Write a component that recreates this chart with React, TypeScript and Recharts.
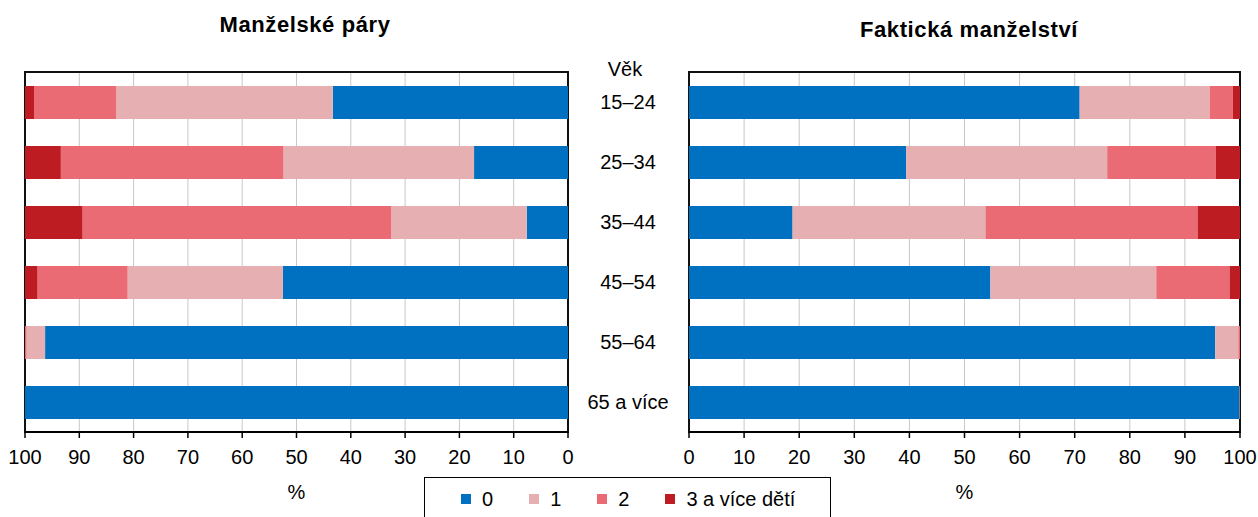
import React from 'react';
import { BarChart, Bar, XAxis, YAxis, CartesianGrid, ReferenceArea } from 'recharts';

const categories = ['15–24', '25–34', '35–44', '45–54', '55–64', '65 a více'];
const seriesNames = ['0', '1', '2', '3 a více dětí'];
const seriesColors = ['#0070C0', '#E6AFB2', '#EA6B73', '#BE1C23'];
const percentTicks = [0, 10, 20, 30, 40, 50, 60, 70, 80, 90, 100];

// Manželské páry
const marriedZero = [43.3, 17.3, 7.6, 52.5, 96.3, 100];
const marriedOne = [39.9, 35.1, 25.0, 28.6, 3.4, 0];
const marriedTwo = [15.1, 41.0, 56.8, 16.6, 0.3, 0];
const marriedThree = [1.7, 6.6, 10.6, 2.3, 0, 0];

// Faktická manželství
const cohabZero = [70.9, 39.4, 18.8, 54.7, 95.5, 99.9];
const cohabOne = [23.6, 36.5, 35.0, 30.1, 4.2, 0.1];
const cohabTwo = [4.2, 19.7, 38.5, 13.3, 0.3, 0];
const cohabThree = [1.3, 4.4, 7.7, 1.9, 0, 0];

const keys = ['s0', 's1', 's2', 's3'];

const build = (a: number[], b: number[], c: number[], d: number[]) =>
  categories.map((age, i) => ({ age, s0: a[i], s1: b[i], s2: c[i], s3: d[i] }));

const marriedData = build(marriedZero, marriedOne, marriedTwo, marriedThree);
const cohabData = build(cohabZero, cohabOne, cohabTwo, cohabThree);

const FONT = '"Liberation Sans", Arial, sans-serif';

const CategoryTick = (props: any) => {
  const { x, y, payload } = props;
  return (
    <text x={x} y={y} dx={60} dy="0.36em" textAnchor="middle" fontSize={20} fill="#000" fontFamily={FONT}>
      {payload.value}
    </text>
  );
};

const tickStyle = { fontSize: 20, fill: '#000', fontFamily: FONT };

const renderBars = () =>
  keys.map((k, i) => (
    <Bar
      key={k}
      dataKey={k}
      name={seriesNames[i]}
      stackId="a"
      fill={seriesColors[i]}
      barSize={33}
      isAnimationActive={false}
    />
  ));

export default function App() {
  return (
    <div style={{ position: 'absolute', left: 0, top: 0, width: 1258, height: 517, background: '#fff', fontFamily: FONT, overflow: 'hidden' }}>
      <div style={{ position: 'absolute', left: 305, top: 13, transform: 'translateX(-50%)', fontWeight: 'bold', fontSize: 22, lineHeight: '23px', whiteSpace: 'nowrap', letterSpacing: 0.6 }}>
        Manželské páry
      </div>
      <div style={{ position: 'absolute', left: 969, top: 18, transform: 'translateX(-50%)', fontWeight: 'bold', fontSize: 22, lineHeight: '23px', whiteSpace: 'nowrap', letterSpacing: 0.6 }}>
        Faktická manželství
      </div>
      <div style={{ position: 'absolute', left: 625, top: 59, transform: 'translateX(-50%)', fontSize: 20, lineHeight: '20px', whiteSpace: 'nowrap' }}>
        Věk
      </div>

      <div style={{ position: 'absolute', left: 0, top: 0 }}>
        <BarChart width={680} height={517} data={marriedData} layout="vertical" margin={{ top: 72, right: 0, bottom: 55, left: 25 }}>
          <CartesianGrid horizontal={false} stroke="#c8c8c8" strokeWidth={1} />
          <XAxis
            type="number"
            domain={[0, 100]}
            ticks={percentTicks}
            reversed
            height={30}
            tick={tickStyle}
            tickSize={6}
            tickMargin={12}
            axisLine={{ stroke: '#000', strokeWidth: 2 }}
            tickLine={{ stroke: '#000', strokeWidth: 1.5 }}
            label={{ value: '%', position: 'bottom', offset: 23, fontSize: 20, fill: '#000', fontFamily: FONT }}
          />
          <YAxis
            type="category"
            dataKey="age"
            orientation="right"
            width={112}
            axisLine={false}
            tickLine={false}
            tickSize={0}
            tickMargin={0}
            tick={<CategoryTick />}
          />
          {renderBars()}
          <ReferenceArea x1={0} x2={100} fill="none" stroke="#111" strokeWidth={2} ifOverflow="visible" />
        </BarChart>
      </div>

      <div style={{ position: 'absolute', left: 680, top: 0 }}>
        <BarChart width={578} height={517} data={cohabData} layout="vertical" margin={{ top: 72, right: 18, bottom: 55, left: 9 }}>
          <CartesianGrid horizontal={false} stroke="#c8c8c8" strokeWidth={1} />
          <XAxis
            type="number"
            domain={[0, 100]}
            ticks={percentTicks}
            height={30}
            tick={tickStyle}
            tickSize={6}
            tickMargin={12}
            axisLine={{ stroke: '#000', strokeWidth: 2 }}
            tickLine={{ stroke: '#000', strokeWidth: 1.5 }}
            label={{ value: '%', position: 'bottom', offset: 23, fontSize: 20, fill: '#000', fontFamily: FONT }}
          />
          <YAxis type="category" dataKey="age" hide />
          {renderBars()}
          <ReferenceArea x1={0} x2={100} fill="none" stroke="#111" strokeWidth={2} ifOverflow="visible" />
        </BarChart>
      </div>

      <div style={{ position: 'absolute', left: 424, top: 477, width: 407, height: 60, border: '1.5px solid #000', boxSizing: 'border-box' }}>
        <div style={{ position: 'absolute', left: 36, top: 10, display: 'flex', alignItems: 'center', fontSize: 20, lineHeight: '22px', whiteSpace: 'nowrap' }}>
          {seriesNames.map((n, i) => (
            <div key={n} style={{ display: 'flex', alignItems: 'center', marginRight: 36 }}>
              <span style={{ display: 'inline-block', width: 10, height: 10, background: seriesColors[i], marginRight: 11 }} />
              <span>{n}</span>
            </div>
          ))}
        </div>
      </div>
    </div>
  );
}
